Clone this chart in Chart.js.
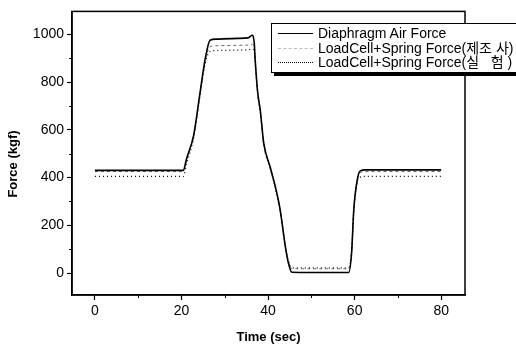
<!DOCTYPE html>
<html>
<head>
<meta charset="utf-8">
<script src="https://cdn.jsdelivr.net/npm/chart.js@4"></script>
<style>
  html, body { margin: 0; padding: 0; background: #fff; overflow: hidden; }
  #wrap { position: relative; width: 516px; height: 345px; }
  #legend {
    position: absolute; left: 271px; top: 23px; width: 262px; height: 50px;
    border: 1px solid #000; box-shadow: 3px 3px 0 #000; background: #fff;
    font-family: "Liberation Sans", Arial, "Noto Sans CJK KR", sans-serif;
    font-size: 14px; color: #000; box-sizing: border-box;
  }
  .row { position: absolute; left: 0; height: 14px; width: 100%; white-space: pre; }
  .row span.s { position: absolute; left: 6px; top: 7px; width: 35px; height: 0; }
  .row span.t { position: absolute; left: 46px; top: 0; line-height: 14px; }
</style>
</head>
<body>
<div id="wrap">
  <canvas id="forceChart" width="516" height="345"></canvas>
  <div id="legend"></div>
</div>
<script>
/***** data *****/
var labels = ['Diaphragm Air Force', 'LoadCell+Spring Force(제조 사)', 'LoadCell+Spring Force(실   험 )'];
var time = [0, 20.4, 21.2, 22.8, 24.3, 25.5, 26.6, 28, 33, 35.4, 36.3, 36.8, 37, 37.6, 38.2, 39, 40.5, 41.7, 42.8, 44, 44.7, 45.5, 50, 58.6, 59.3, 59.8, 60.6, 61.3, 62.5, 80];
var airForce = [430, 430, 481, 577, 758, 900, 975, 980, 983, 985, 996, 965, 900, 757, 682, 544, 443, 360, 264, 110, 42, 3, 2, 2, 84, 264, 390, 428, 432, 432];
var makerForce = [425, 425, 475, 572, 750, 890, 948, 952, 954, 955, 958, 945, 895, 752, 678, 540, 440, 358, 262, 112, 46, 18, 18, 18, 90, 262, 385, 420, 425, 425];
var testForce = [405, 405, 460, 565, 745, 880, 928, 932, 934, 935, 938, 930, 888, 748, 675, 538, 438, 356, 262, 115, 50, 22, 22, 22, 92, 260, 380, 402, 405, 405];
var xTicks = [0, 20, 40, 60, 80];
var yTicks = [0, 200, 400, 600, 800, 1000];
var xMinor = [10, 30, 50, 70];
var yMinor = [100, 300, 500, 700, 900];

function pts(ys) {
  return time.map(function (t, i) { return { x: t, y: ys[i] }; });
}

var styles = [
  { color: '#000', dash: [], width: 1.6 },
  { color: '#666', dash: [3, 3], width: 1 },
  { color: '#000', dash: [1, 3], width: 1.2 }
];
var series = [airForce, makerForce, testForce];

var datasets = series.map(function (ys, i) {
  return {
    label: labels[i],
    data: pts(ys),
    borderColor: styles[i].color,
    borderDash: styles[i].dash,
    borderWidth: styles[i].width,
    pointRadius: 0,
    fill: false,
    cubicInterpolationMode: 'monotone'
  };
});

var tickFont = { family: '"Liberation Sans", Arial, sans-serif', size: 14 };
var titleFont = { family: '"Liberation Sans", Arial, sans-serif', size: 13, weight: 'bold' };

// frame, minor ticks, y title
var framePlugin = {
  id: 'frame',
  afterDraw: function (chart) {
    var c = chart.ctx, a = chart.chartArea;
    var xs = chart.scales.x, ys = chart.scales.y;
    c.save();
    c.strokeStyle = '#000';
    c.lineWidth = 1.5;
    c.strokeRect(a.left, a.top, a.right - a.left, a.bottom - a.top);
    c.lineWidth = 1;
    c.beginPath();
    xMinor.forEach(function (v) {
      var px = Math.round(xs.getPixelForValue(v)) + 0.5;
      c.moveTo(px, a.bottom); c.lineTo(px, a.bottom + 3);
    });
    yMinor.forEach(function (v) {
      var py = Math.round(ys.getPixelForValue(v)) + 0.5;
      c.moveTo(a.left, py); c.lineTo(a.left - 3, py);
    });
    c.stroke();
    c.translate(13, 164);
    c.rotate(-Math.PI / 2);
    c.font = 'bold 13px "Liberation Sans", Arial, sans-serif';
    c.fillStyle = '#000';
    c.textAlign = 'center';
    c.textBaseline = 'middle';
    c.fillText('Force (kgf)', 0, 0);
    c.restore();
  }
};

var ctx = document.getElementById('forceChart');
var forceChart = new Chart(ctx, {
  type: 'line',
  data: { datasets: datasets },
  options: {
    responsive: false,
    animation: false,
    layout: { padding: { left: 0, top: 11, right: 51, bottom: 0 } },
    plugins: { legend: { display: false }, tooltip: { enabled: false } },
    scales: {
      x: {
        type: 'linear', min: -5.3, max: 85.5,
        afterBuildTicks: function (s) { s.ticks = xTicks.map(function (v) { return { value: v }; }); },
        afterFit: function (s) { s.height = 50; },
        ticks: { color: '#000', font: tickFont, padding: 3, maxRotation: 0, callback: function (v) { return String(v); } },
        grid: { drawOnChartArea: false, tickLength: 5, color: '#000', tickWidth: 1.2 },
        border: { color: '#000', width: 1.5 },
        title: { display: true, text: 'Time (sec)', color: '#000', font: titleFont, padding: { top: 0, bottom: 0 } }
      },
      y: {
        type: 'linear', min: -92, max: 1096,
        afterBuildTicks: function (s) { s.ticks = yTicks.map(function (v) { return { value: v }; }); },
        afterFit: function (s) { s.width = 72; },
        ticks: { color: '#000', font: tickFont, padding: 3, callback: function (v) { return String(v); } },
        grid: { drawOnChartArea: false, tickLength: 5, color: '#000', tickWidth: 1.2 },
        border: { color: '#000', width: 1.5 }
      }
    }
  },
  plugins: [framePlugin]
});

// legend built from the datasets
var legend = document.getElementById('legend');
var rowTop = [2, 17, 31];
datasets.forEach(function (d, i) {
  var row = document.createElement('div');
  row.className = 'row';
  row.style.top = rowTop[i] + 'px';
  var s = document.createElement('span');
  s.className = 's';
  var st = i === 0 ? 'solid' : (i === 1 ? 'dashed' : 'dotted');
  s.style.borderTop = '1px ' + st + ' ' + (i === 1 ? '#bbb' : '#000');
  var t = document.createElement('span');
  t.className = 't';
  t.textContent = d.label;
  row.appendChild(s);
  row.appendChild(t);
  legend.appendChild(row);
});
</script>
</body>
</html>
